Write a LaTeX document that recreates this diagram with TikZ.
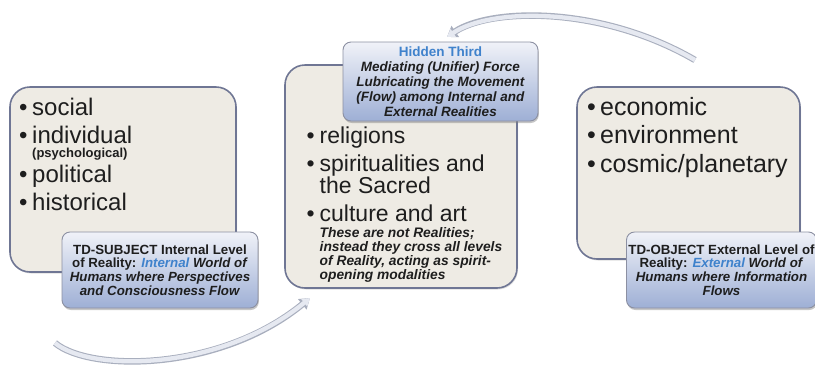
\documentclass[tikz,border=0pt]{standalone}
\usepackage{fontspec}
\setmainfont{Liberation Sans}
\usetikzlibrary{shadows,arrows.meta}

\definecolor{levelfill}{HTML}{EEEBE4}
\definecolor{levelline}{HTML}{6F7694}
\definecolor{captop}{HTML}{F0F2F8}
\definecolor{capbottom}{HTML}{9EAFD5}
\definecolor{capline}{HTML}{8C90A2}
\definecolor{flowblue}{HTML}{3F82CC}
\definecolor{arrowbody}{HTML}{E6E9F1}
\definecolor{arrowrim}{HTML}{A9AFBE}
\definecolor{ink}{HTML}{1E1E1E}

\newcommand{\itm}{\makebox[13pt][l]{\textbullet}}
\newcommand{\flowword}[1]{\textcolor{flowblue}{#1}}
\newcommand{\notefont}{\fontsize{13.8}{14}\selectfont\bfseries\itshape}

\tikzset{
  level/.style={draw=levelline, line width=1.6pt, fill=levelfill, rounded corners=20pt, inner sep=0pt,
    drop shadow={shadow xshift=1pt, shadow yshift=-1.5pt, opacity=0.25}},
  capbox/.style={draw=capline, line width=0.9pt, rounded corners=8pt, top color=captop, bottom color=capbottom,
    align=center, text=ink, inner sep=0pt, font=\fontsize{13.3}{13.6}\selectfont\bfseries,
    drop shadow={shadow xshift=0.8pt, shadow yshift=-2pt, opacity=0.45}},
  bullets/.style={anchor=north west, inner sep=0pt, text=ink, font=\fontsize{23}{28}\selectfont},
  swooshrim/.style={line width=6.5pt, draw=arrowrim, -{Triangle[length=10pt,width=13pt]}},
  swooshbody/.style={line width=4.3pt, draw=arrowbody, -{Triangle[length=7.5pt,width=9pt]}},
}

\begin{document}
\begin{tikzpicture}[x=1pt, y=-1pt]
  \useasboundingbox (0,0) rectangle (815,368);
  \clip (0,0) rectangle (815,368);

  % levels of reality
  \node[level, minimum width=226pt, minimum height=185pt] (subject) at (123,179.5) {};
  \node[level, minimum width=232pt, minimum height=223pt] (third) at (401,176.5) {};
  \node[level, minimum width=223pt, minimum height=172pt] (object) at (688.5,173) {};

  \node[bullets, font=\fontsize{24}{28}\selectfont] (subjectlist) at (19,95.4) {\begin{tabular}{@{}l@{}l@{}}
      \itm & social\\
      \itm & individual\\[-14pt]
           & {\fontsize{13}{14}\selectfont\bfseries (psychological)}\\[-3pt]
      \itm & political\\
      \itm & historical
    \end{tabular}};
  \node[bullets] (thirdlist) at (306.5,123.7) {\begin{tabular}{@{}l@{}l@{}}
      \itm & religions\\
      \itm & spiritualities and\\[-6pt]
           & the Sacred\\
      \itm & culture and art\\[-12pt]
           & \notefont These are not Realities;\\[-14pt]
           & \notefont instead they cross all levels\\[-14pt]
           & \notefont of Reality, acting as spirit-\\[-14pt]
           & \notefont opening modalities
    \end{tabular}};
  \node[bullets, font=\fontsize{25}{28.5}\selectfont] (objectlist) at (587,95) {\begin{tabular}{@{}l@{}l@{}}
      \itm & economic\\
      \itm & environment\\
      \itm & cosmic/planetary
    \end{tabular}};

  % captions
  \node[capbox, minimum width=196pt, minimum height=76pt] (subjectcap) at (160,270)
    {TD-SUBJECT Internal Level\\of Reality: \textit{\flowword{Internal} World of}\\
     \textit{Humans where Perspectives}\\\textit{and Consciousness Flow}};
  \node[capbox, minimum width=195pt, minimum height=79pt, font=\fontsize{13.5}{15}\selectfont\bfseries] (mediator) at (440.5,81.5)
    {\flowword{Hidden Third}\\\textit{Mediating (Unifier) Force}\\\textit{Lubricating the Movement}\\
     \textit{(Flow) among Internal and}\\\textit{External Realities}};
  \node[capbox, minimum width=190pt, minimum height=76pt] (objectcap) at (721.5,270)
    {TD-OBJECT External Level of\\Reality: \textit{\flowword{External} World of}\\
     \textit{Humans where Information}\\\textit{Flows}};

  % flow arrows
  \coordinate (toptail) at (695,60);
  \coordinate (tophead) at (447,37);
  \coordinate (lowtail) at (55,343);
  \coordinate (lowhead) at (310,298);
  \draw[swooshrim] (toptail) .. controls (600,5) and (490,8) .. (tophead);
  \draw[swooshbody] (toptail) .. controls (600,5) and (490,8) .. (tophead);
  \draw[swooshrim] (lowtail) .. controls (90,372) and (220,372) .. (lowhead);
  \draw[swooshbody] (lowtail) .. controls (90,372) and (220,372) .. (lowhead);
\end{tikzpicture}
\end{document}
